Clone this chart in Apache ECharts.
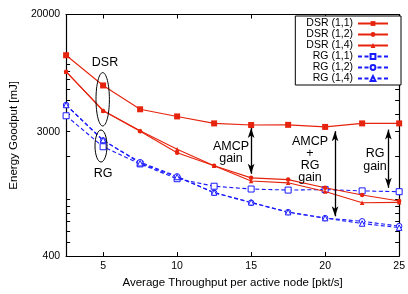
<!DOCTYPE html>
<html><head><meta charset="utf-8">
<script src="https://cdn.jsdelivr.net/npm/echarts@6/dist/echarts.min.js"></script>
<style>html,body{margin:0;padding:0;background:#fff}#c{width:408px;height:294px}</style>
</head><body><div id="c"></div>
<script>
var throughput = [2.5, 5, 7.5, 10, 12.5, 15, 17.5, 20, 22.5, 25];
var dsr11 = [10340, 6340, 4310, 3840, 3430, 3340, 3350, 3240, 3430, 3430];
var dsr12 = [7920, 4200, 3020, 2130, 1730, 1420, 1380, 1210, 1076, 975];
var dsr14 = [7920, 4230, 3040, 2260, 1730, 1350, 1310, 1140, 950, 955];
var rg11 = [3880, 2350, 1780, 1400, 1240, 1185, 1165, 1175, 1150, 1135];
var rg12 = [4620, 2600, 1830, 1455, 1115, 950, 815, 740, 703, 650];
var rg14 = [4620, 2620, 1800, 1440, 1120, 955, 815, 740, 678, 634];
var seriesNames = ['DSR (1,1)', 'DSR (1,2)', 'DSR (1,4)', 'RG (1,1)', 'RG (1,2)', 'RG (1,4)'];
var xTicks = [5, 10, 15, 20, 25];
var yLabels = [400, 3000, 20000];
var yMinorTicks = [400, 500, 600, 700, 800, 900, 1000, 2000, 3000, 4000, 5000, 6000, 7000, 8000, 9000, 10000, 20000];

var FONT = 'Liberation Sans, Arial, Helvetica, sans-serif';
var RED = '#e6230c', BLUE = '#1a1aff';
function pairs(ys) { return throughput.map(function (x, i) { return [x, ys[i]]; }); }

function mkSeries(name, ys, color, symbol, size, dashed, hollow) {
  return {
    name: name, type: 'line', data: pairs(ys), symbol: symbol, symbolSize: size,
    showAllSymbol: true,
    lineStyle: { color: color, width: 1.1, type: dashed ? [4, 2.5] : 'solid' },
    itemStyle: { color: hollow ? '#fff' : color, borderColor: color, borderWidth: hollow ? 1 : 0 },
    emphasis: { disabled: true }, animation: false, z: dashed ? 2 : 3
  };
}

var chart = echarts.init(document.getElementById('c'));
var axisTxt = { fontSize: 11.5, fontFamily: FONT, color: '#000' };
var series = [
  mkSeries(seriesNames[0], dsr11, RED, 'rect', 6, false, false),
  mkSeries(seriesNames[1], dsr12, RED, 'circle', 4.5, false, false),
  mkSeries(seriesNames[2], dsr14, RED, 'triangle', 4.5, false, false),
  mkSeries(seriesNames[3], rg11, BLUE, 'rect', 6, true, true),
  mkSeries(seriesNames[4], rg12, BLUE, 'circle', 5.5, true, true),
  mkSeries(seriesNames[5], rg14, BLUE, 'triangle', 5.5, true, true)
];
series[0].markLine = {
  silent: true, symbol: ['arrow', 'arrow'], symbolSize: [5, 10], animation: false,
  label: { show: false },
  lineStyle: { color: '#000', width: 1.3, type: 'solid' },
  data: [
    [{ coord: [15, 3187] }, { coord: [15, 1517] }],
    [{ coord: [20.67, 3024] }, { coord: [20.67, 762] }],
    [{ coord: [24.27, 3101] }, { coord: [24.27, 1208] }]
  ]
};

var annTxt = { fontSize: 12.5, fontFamily: FONT, fill: '#000', align: 'center', verticalAlign: 'middle' };
function txt(x, y, s) { return { type: 'text', x: x, y: y, z: 50, style: Object.assign({ text: s }, annTxt) }; }
function plain(v) { return String(Math.round(v)); }

chart.setOption({
  animation: false,
  grid: { left: 63.5, right: 7, top: 14.5, bottom: 33 },
  xAxis: [{
    type: 'value', min: 2.5, max: 25, position: 'bottom',
    name: 'Average Throughput per active node [pkt/s]', nameLocation: 'middle', nameGap: 20,
    nameTextStyle: axisTxt,
    axisLine: { show: true, onZero: false, lineStyle: { color: '#000', width: 1.2 } },
    axisTick: { show: true, inside: true, length: 4, customValues: xTicks, lineStyle: { color: '#000' } },
    axisLabel: { customValues: xTicks, margin: 5, fontSize: 10.5, fontFamily: FONT, color: '#000', formatter: plain },
    splitLine: { show: false }
  }, {
    type: 'value', min: 2.5, max: 25, position: 'top',
    axisLine: { show: true, onZero: false, lineStyle: { color: '#000', width: 1.2 } },
    axisTick: { show: true, inside: true, length: 4, customValues: xTicks, lineStyle: { color: '#000' } },
    axisLabel: { show: false }, splitLine: { show: false }
  }],
  yAxis: [{
    type: 'log', min: 400, max: 20000, logBase: 10, position: 'left',
    name: 'Energy Goodput [mJ]', nameLocation: 'middle', nameGap: 43, nameTextStyle: axisTxt,
    axisLine: { show: true, onZero: false, lineStyle: { color: '#000', width: 1.2 } },
    axisTick: { show: true, inside: true, length: 4, customValues: yMinorTicks, lineStyle: { color: '#000' } },
    axisLabel: { customValues: yLabels, margin: 6, fontSize: 10.5, fontFamily: FONT, color: '#000', formatter: plain },
    splitLine: { show: false }, minorTick: { show: false }
  }, {
    type: 'log', min: 400, max: 20000, logBase: 10, position: 'right',
    axisLine: { show: true, onZero: false, lineStyle: { color: '#000', width: 1.2 } },
    axisTick: { show: true, inside: true, length: 4, customValues: yMinorTicks, lineStyle: { color: '#000' } },
    axisLabel: { show: false }, splitLine: { show: false }
  }],
  legend: {
    data: seriesNames, orient: 'vertical', right: 7, top: 16, align: 'right',
    itemWidth: 30, itemHeight: 6, itemGap: 0, padding: [2, 12, 1, 11],
    borderColor: '#000', borderWidth: 1, borderRadius: 0, backgroundColor: '#fff',
    textStyle: { fontSize: 10.5, lineHeight: 10, fontFamily: FONT, color: '#000' }, selectedMode: false
  },
  series: series,
  graphic: [
    txt(105, 63, 'DSR'),
    { type: 'ellipse', z: 50, shape: { cx: 102.7, cy: 99.3, rx: 6.7, ry: 26.7 }, style: { fill: 'none', stroke: '#000', lineWidth: 1 } },
    { type: 'ellipse', z: 50, shape: { cx: 101, cy: 146, rx: 6, ry: 16 }, style: { fill: 'none', stroke: '#000', lineWidth: 1 } },
    txt(103, 174, 'RG'),
    txt(231, 147, 'AMCP'), txt(231, 159, 'gain'),
    txt(310, 142, 'AMCP'), txt(310, 154, '+'), txt(310, 166, 'RG'), txt(310, 178, 'gain'),
    txt(375, 154, 'RG'), txt(375, 167, 'gain')
  ]
});
</script></body></html>
